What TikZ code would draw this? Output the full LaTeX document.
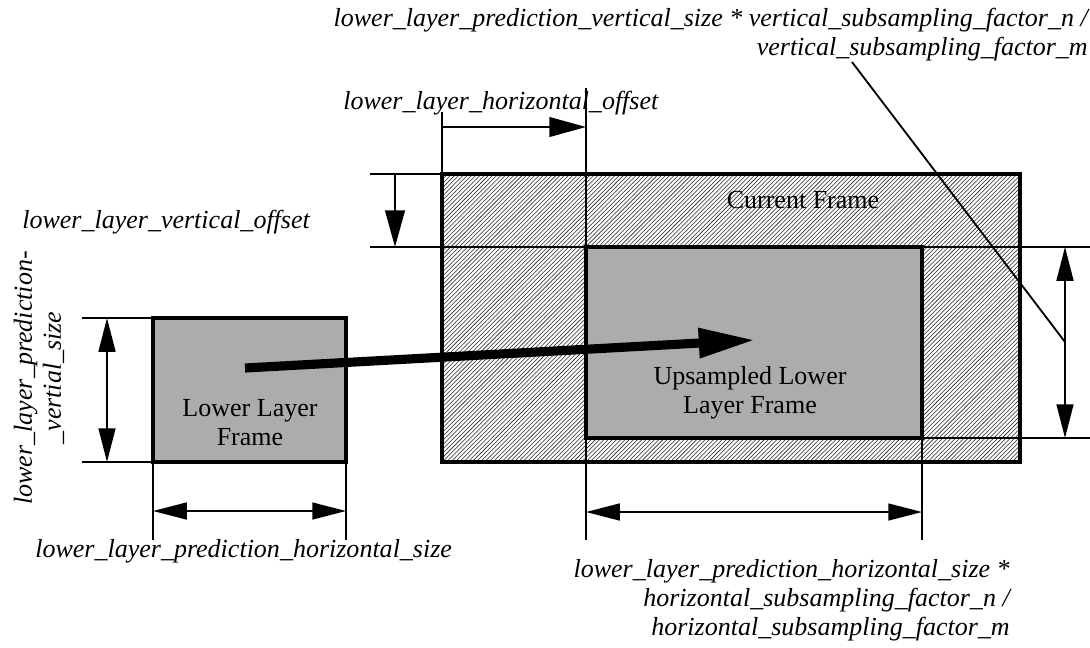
\documentclass[tikz,border=0pt]{standalone}
\usepackage{fontspec}
\setmainfont{Liberation Serif}
\usepackage{tikz}
\usetikzlibrary{arrows.meta, patterns, positioning}
\definecolor{framegray}{RGB}{172, 172, 172}
\definecolor{hatchgray}{RGB}{40, 40, 40}

\begin{document}
\begin{tikzpicture}[x=0.025cm, y=-0.025cm,
  frm/.style={line width=3.5pt},
  ext/.style={line width=1.3pt},
  dimarr/.style={line width=1.3pt, -{Triangle[length=26pt, width=14pt]}},
  dimboth/.style={line width=1.3pt, {Triangle[length=24pt, width=12pt]}-{Triangle[length=24pt, width=12pt]}},
  lbl/.style={inner sep=0pt, font=\fontsize{18.5}{20.6}\selectfont\itshape},
  txt/.style={inner sep=0pt, align=center, font=\fontsize{18.5}{20.6}\selectfont},
]
\useasboundingbox (0,0) rectangle (1090,647);

% Frame corners
\coordinate (cur-a) at (442,174);
\coordinate (cur-b) at (1020,462);
\coordinate (up-a) at (586,247);
\coordinate (up-b) at (922,438);
\coordinate (low-a) at (153,318);
\coordinate (low-b) at (346,462);

% Current frame (hatched)
\fill[white] (cur-a) rectangle (cur-b);
\fill[pattern=north east lines, pattern color=hatchgray] (cur-a) rectangle (cur-b);

% Extension lines
\draw[ext] (442,112) -- (cur-a);
\draw[ext] (586,88) -- (up-a);
\draw[ext] (370,174) -- (cur-a);
\draw[ext] (370,247) -- (up-a);
\draw[ext] (922,247) -- (1090,247);
\draw[ext] (922,438) -- (1090,438);
\draw[ext] (586,438) -- (586,540);
\draw[ext] (922,438) -- (922,540);
\draw[ext] (82,318) -- (low-a);
\draw[ext] (82,462) -- (153,462);
\draw[ext] (153,462) -- (153,540);
\draw[ext] (346,462) -- (346,540);

% Frames
\draw[frm, fill=framegray] (up-a) rectangle (up-b);
\draw[frm] (cur-a) rectangle (cur-b);
\draw[frm, fill=framegray] (low-a) rectangle (low-b);

% Frame labels
\node[txt] (curlbl) at (803,200) {Current Frame};
\node[txt] (uplbl) at (750,393) {Upsampled Lower\\Layer Frame};
\node[txt] (lowlbl) at (250,423) {Lower Layer\\Frame};

% Dimension arrows
\coordinate (hoff-s) at (442,127);
\coordinate (hoff-e) at (586,127);
\draw[dimarr] (hoff-s) -- (hoff-e);
\coordinate (voff-s) at (395,174);
\coordinate (voff-e) at (395,247);
\draw[dimarr] (voff-s) -- (voff-e);
\coordinate (lv-s) at (107,318);
\coordinate (lv-e) at (107,462);
\draw[dimboth] (lv-s) -- (lv-e);
\coordinate (lh-s) at (153,511);
\coordinate (lh-e) at (346,511);
\draw[dimboth] (lh-s) -- (lh-e);
\coordinate (uh-s) at (586,512);
\coordinate (uh-e) at (922,512);
\draw[dimboth] (uh-s) -- (uh-e);
\coordinate (uv-s) at (1065,247);
\coordinate (uv-e) at (1065,438);
\draw[dimboth] (uv-s) -- (uv-e);

% Mapping arrow
\coordinate (map-s) at (245,368);
\coordinate (map-e) at (755,340);
\draw[line width=6.5pt, -{Triangle[length=40pt, width=20pt]}] (map-s) -- (map-e);

% Dimension texts
\node[lbl, anchor=east, align=right] (vsizelbl) at (1088,35)
  {lower\_layer\_prediction\_vertical\_size * vertical\_subsampling\_factor\_n /\\
   vertical\_subsampling\_factor\_m};
\coordinate (lead-s) at (852,62);
\draw[ext] (lead-s) -- (1065,342);
\node[lbl, anchor=west] (hofflbl) at (343,103) {lower\_layer\_horizontal\_offset};
\node[lbl, anchor=west] (vofflbl) at (22,222) {lower\_layer\_vertical\_offset};
\node[lbl, rotate=90, align=center] (lvlbl) at (39,378)
  {lower\_layer\_prediction-\\\_vertial\_size};
\node[lbl, anchor=west] (lhlbl) at (35,551) {lower\_layer\_prediction\_horizontal\_size};
\node[lbl, anchor=east, align=right] (uhlbl) at (1010,600)
  {lower\_layer\_prediction\_horizontal\_size *\\
   horizontal\_subsampling\_factor\_n /\\
   horizontal\_subsampling\_factor\_m};
\end{tikzpicture}
\end{document}
